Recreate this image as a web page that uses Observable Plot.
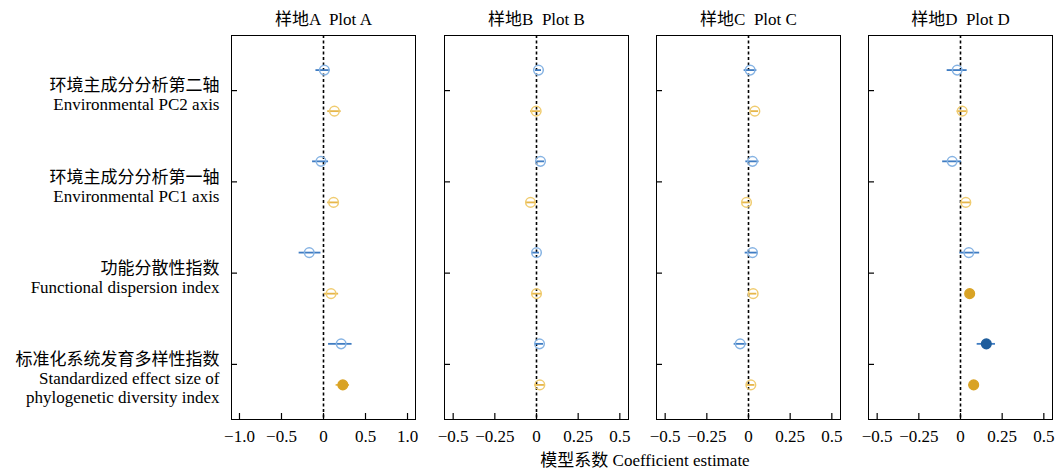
<!DOCTYPE html>
<html>
<head>
<meta charset="utf-8">
<script src="https://cdn.jsdelivr.net/npm/d3@7"></script>
<script src="https://cdn.jsdelivr.net/npm/@observablehq/plot@0.6"></script>
<style>
  html, body { margin: 0; padding: 0; background: #fff; overflow: hidden; }
  #wrap { position: relative; width: 1056px; height: 473px; font-family: "Liberation Serif", "Noto Sans CJK SC", serif; }
  #wrap svg { position: absolute; top: 0; overflow: visible; }
  #xtitle { position: absolute; top: 450px; left: 0; width: 1290px; text-align: center; font-size: 17px; line-height: 22px; color: #000; }
</style>
</head>
<body>
<div id="wrap"><div id="xtitle">模型系数 Coefficient estimate</div></div>
<script>
// ---- categories & titles ----
const categories = [
  "环境主成分分析第二轴\nEnvironmental PC2 axis",
  "环境主成分分析第一轴\nEnvironmental PC1 axis",
  "功能分散性指数\nFunctional dispersion index",
  "标准化系统发育多样性指数\nStandardized effect size of\nphylogenetic diversity index"
];
const plotTitles = ["样地A  Plot A", "样地B  Plot B", "样地C  Plot C", "样地D  Plot D"];

// ---- series values: [estimate, lower, upper] per category ----
const aBlue   = [[0.01, -0.09, 0.08], [-0.03, -0.13, 0.06], [-0.17, -0.29, -0.03], [0.21, 0.06, 0.34]];
const aYellow = [[0.13, 0.05, 0.21], [0.12, 0.05, 0.19], [0.09, 0.01, 0.18], [0.23, 0.15, 0.31]];
const bBlue   = [[0.012, -0.006, 0.03], [0.024, 0.004, 0.048], [0.0, -0.024, 0.018], [0.018, -0.006, 0.042]];
const bYellow = [[-0.002, -0.036, 0.024], [-0.036, -0.065, -0.002], [0.0, -0.03, 0.034], [0.02, -0.01, 0.05]];
const cBlue   = [[0.01, -0.026, 0.05], [0.024, -0.016, 0.063], [0.024, -0.02, 0.057], [-0.05, -0.086, -0.01]];
const cYellow = [[0.038, 0.014, 0.06], [-0.012, -0.036, 0.01], [0.028, 0.002, 0.05], [0.014, -0.01, 0.038]];
const dBlue   = [[-0.02, -0.08, 0.04], [-0.05, -0.107, 0.006], [0.05, -0.004, 0.115], [0.155, 0.1, 0.21]];
const dYellow = [[0.01, -0.02, 0.04], [0.032, 0.002, 0.06], [0.055, 0.032, 0.081], [0.079, 0.05, 0.105]];

// significance (1 = filled marker)
const aBlueSig = [0, 0, 0, 0], aYellowSig = [0, 0, 0, 1];
const bBlueSig = [0, 0, 0, 0], bYellowSig = [0, 0, 0, 0];
const cBlueSig = [0, 0, 0, 0], cYellowSig = [0, 0, 0, 0];
const dBlueSig = [0, 0, 0, 1], dYellowSig = [0, 0, 1, 1];

// ---- ticks ----
const ticksA = [-1, -0.5, 0, 0.5, 1];
const ticksALabels = ["−1.0", "−0.5", "0", "0.5", "1.0"];
const ticksB = [-0.5, -0.25, 0, 0.25, 0.5];
const ticksBLabels = ["−0.5", "−0.25", "0", "0.25", "0.5"];

// ---- styling ----
const colors = {
  blue:   {line: "#3f7cc2", open: "#86b3e3", fill: "#1f5d9c"},
  yellow: {line: "#e6b64a", open: "#f0cc70", fill: "#d9a325"}
};
const offsets = {blue: -0.225, yellow: 0.225};
const font = '"Liberation Serif", "Noto Sans CJK SC", serif';

const panels = [
  {title: plotTitles[0], blue: aBlue, yellow: aYellow, bs: aBlueSig, ys: aYellowSig, dom: [-1.095, 1.095], ticks: ticksA, labels: ticksALabels, left: 231},
  {title: plotTitles[1], blue: bBlue, yellow: bYellow, bs: bBlueSig, ys: bYellowSig, dom: [-0.552, 0.552], ticks: ticksB, labels: ticksBLabels, left: 443.5},
  {title: plotTitles[2], blue: cBlue, yellow: cYellow, bs: cBlueSig, ys: cYellowSig, dom: [-0.552, 0.552], ticks: ticksB, labels: ticksBLabels, left: 655.7},
  {title: plotTitles[3], blue: dBlue, yellow: dYellow, bs: dBlueSig, ys: dYellowSig, dom: [-0.552, 0.552], ticks: ticksB, labels: ticksBLabels, left: 868.3}
];

const frameW = 184;
const wrap = document.getElementById("wrap");

panels.forEach((p, pi) => {
  const rows = [];
  ["blue", "yellow"].forEach(s => {
    const vals = p[s], sig = s === "blue" ? p.bs : p.ys;
    vals.forEach((v, i) => rows.push({g: i + 1, series: s, est: v[0], lo: v[1], hi: v[2], sig: sig[i]}));
  });
  const yOf = d => d.g + offsets[d.series];
  const mL = pi === 0 ? p.left : 10;
  const mR = 3;
  const width = mL + frameW + mR;
  const gIdx = categories.map((c, i) => i + 1);

  const marks = [
    Plot.frame({stroke: "#000", strokeWidth: 1}),
    Plot.ruleX([0], {stroke: "#000", strokeWidth: 1.6, strokeDasharray: "3,2.5"}),
    Plot.ruleX(p.ticks, {x: d => d, stroke: "#000", strokeWidth: 1.2, insetTop: 384 - 6}),
    Plot.ruleY(gIdx, {y: d => d, stroke: "#000", strokeWidth: 1.2, insetRight: frameW - 6}),
    Plot.axisX(p.ticks, {anchor: "bottom", tickSize: 0, tickPadding: 10, tickFormat: d => p.labels[p.ticks.indexOf(d)], fontSize: 17}),
    Plot.ruleY(rows, {y: yOf, x1: "lo", x2: "hi", stroke: d => colors[d.series].line, strokeWidth: 1.8}),
    Plot.dot(rows, {x: "est", y: yOf, r: 4.8,
      fill: d => d.sig ? colors[d.series].fill : "none",
      stroke: d => d.sig ? colors[d.series].fill : colors[d.series].open,
      strokeWidth: 1.5}),
    Plot.text([p.title], {frameAnchor: "top", dy: -16, lineAnchor: "middle", text: d => d, fontSize: 17, fill: "#000"})
  ];
  if (pi === 0) {
    marks.push(Plot.text(gIdx, {y: d => d, frameAnchor: "left", dx: -12, dy: -13, textAnchor: "end", lineAnchor: "top",
      text: d => categories[d - 1], lineHeight: 1.13, fontSize: 17, fill: "#000"}));
  }

  const svg = Plot.plot({
    width, height: 473,
    marginTop: 35, marginBottom: 54, marginLeft: mL, marginRight: mR,
    x: {domain: p.dom, axis: null},
    y: {domain: [0.396, 4.604], reverse: true, axis: null},
    style: {fontFamily: font, fontSize: "17px", background: "transparent", color: "#000"},
    marks
  });
  svg.style.left = (pi === 0 ? 0 : p.left - mL) + "px";
  wrap.appendChild(svg);
});
</script>
</body>
</html>
